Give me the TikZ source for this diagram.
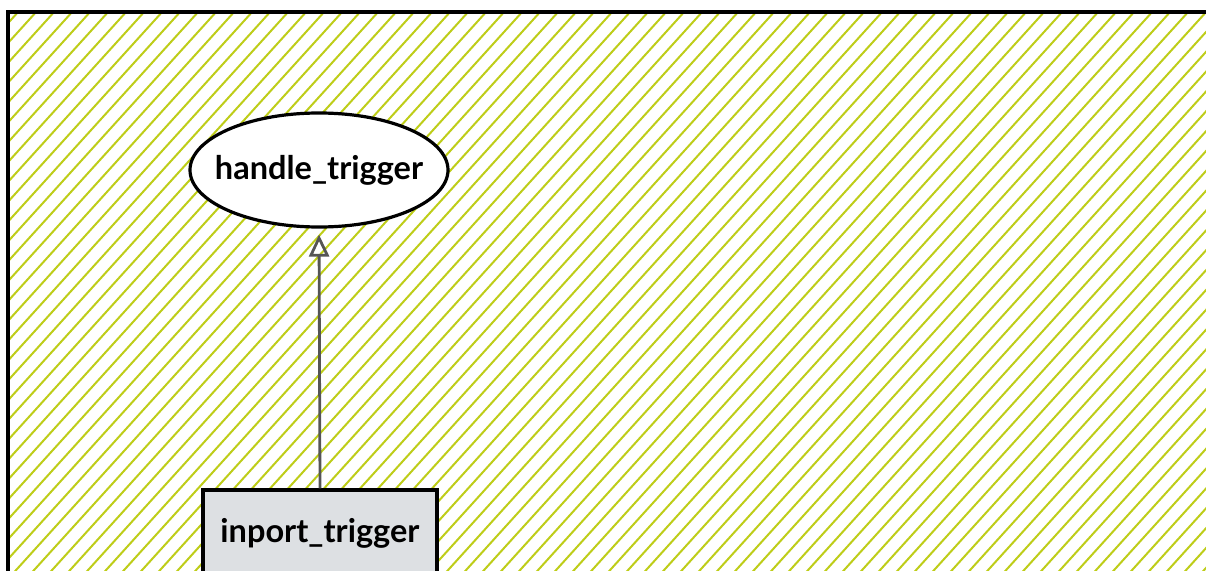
\documentclass[tikz,border=0pt]{standalone}
\usepackage{fontspec}
\setmainfont{Lato}
\usetikzlibrary{arrows.meta,shapes.geometric}
\definecolor{hatchgreen}{RGB}{190,205,25}
\definecolor{portgray}{RGB}{221,224,227}
\definecolor{edgegray}{RGB}{85,85,85}
\tikzset{
  hatch/.style={hatchgreen, line width=2pt},
  blockfn/.style={ellipse, draw=black, line width=3.2pt, fill=white, minimum width=258pt, minimum height=114pt, inner xsep=-13pt, inner ysep=0pt, font=\bfseries\fontsize{32.5}{38}\selectfont},
  portbox/.style={rectangle, draw=black, line width=3.2pt, fill=portgray, minimum width=234pt, minimum height=86pt, inner sep=0pt, font=\bfseries\fontsize{32.5}{38}\selectfont},
  flow/.style={edgegray, line width=2.8pt, shorten >=6pt, -{Triangle[open, length=22pt, width=20pt, line width=2.8pt]}}
}
\begin{document}
\begin{tikzpicture}[x=1pt, y=-1pt]
  \useasboundingbox (0,0) rectangle (1206,570);
  % subsystem area, hatched
  \begin{scope}
    \clip (8,12) rectangle (1220,590);
    \foreach \k in {-560,-542,...,1220} \draw[hatch] (\k,590) -- ++(535,-590);
  \end{scope}
  \draw[line width=3.4pt] (8,590) -- (8,12) -- (1220,12);
  \node[blockfn] (handle) at (319,170) {handle\_trigger};
  \node[portbox] (inport) at (320,533) {inport\_trigger};
  \draw[flow] (inport.north) -- (handle.south);
\end{tikzpicture}
\end{document}
